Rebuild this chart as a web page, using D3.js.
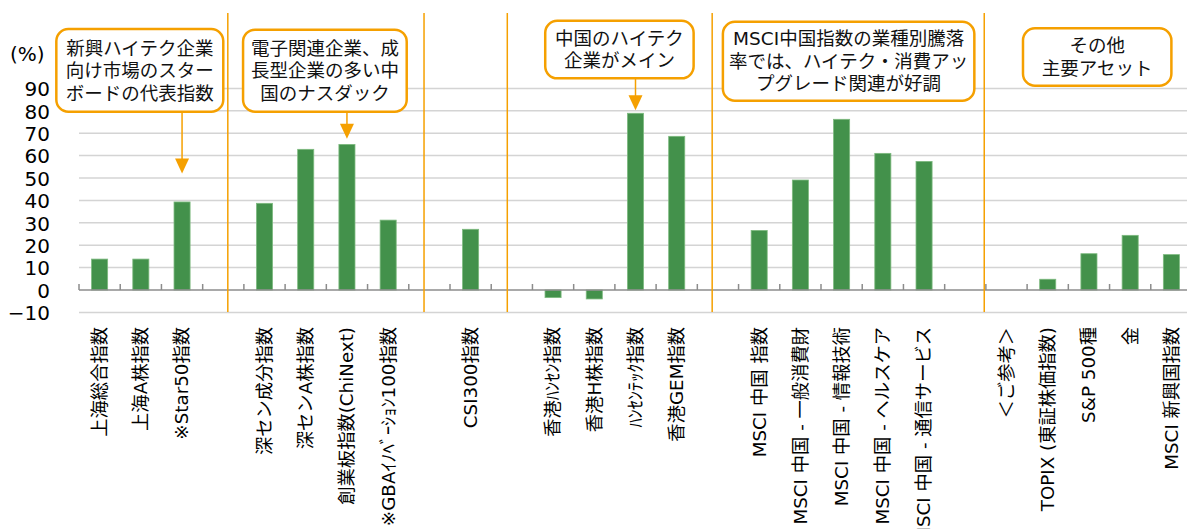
<!DOCTYPE html>
<html><head><meta charset="utf-8">
<script src="https://cdn.jsdelivr.net/npm/d3@7"></script>
<style>
html,body{margin:0;padding:0;background:#fff;}
svg{display:block;}
</style></head>
<body>
<svg id="c" width="1187" height="529"></svg>
<script>
const categories = ["上海総合指数","上海A株指数","※Star50指数","",
  "深セン成分指数","深センA株指数","創業板指数(ChiNext)","※GBAｲﾉﾍﾞｰｼｮﾝ100指数","",
  "CSI300指数","",
  "香港ﾊﾝｾﾝ指数","香港H株指数","ﾊﾝｾﾝﾃｯｸ指数","香港GEM指数","",
  "MSCI 中国 指数","MSCI 中国 - 一般消費財","MSCI 中国 - 情報技術","MSCI 中国 - ヘルスケア","MSCI 中国 - 通信サービス","",
  "＜ご参考＞","TOPIX (東証株価指数)","S&P 500種","金","MSCI 新興国指数"];
const values = [13.8,13.8,39.3,null,
  38.7,62.8,65.0,31.2,null,
  27.1,null,
  -3.4,-4.0,78.9,68.6,null,
  26.6,49.1,76.2,61.0,57.4,null,
  null,4.8,16.2,24.4,15.8];
const yTicks = [-10,0,10,20,30,40,50,60,70,80,90];
// separator positions (in category units from the left edge)
const separators = [3.61, 8.37, 10.39, 15.36, 21.96];
// callouts: text lines, box [x0,x1] in category units, box top/bottom in value units, arrow target
const callouts = [
  {lines:["新興ハイテク企業","向け市場のスター","ボードの代表指数"], box:[-0.55,3.5], top:[116.5,79.6], arrow:{cat:2, to:52}},
  {lines:["電子関連企業、成","長型企業の多い中","国のナスダック"], box:[3.98,7.95], top:[116.2,79.6], arrow:{cat:6, to:67.5}},
  {lines:["中国のハイテク","企業がメイン"], box:[11.31,14.91], top:[120.2,94.5], arrow:{cat:13, to:80.2}},
  {lines:["MSCI中国指数の業種別騰落","率では、ハイテク・消費アッ","プグレード関連が好調"], box:[15.62,21.72], top:[119.7,84.5], arrow:null},
  {lines:["その他","主要アセット"], box:[22.9,26.5], top:[116.8,91.2], arrow:null}
];

const svg = d3.select("#c");
const left = 79, right = 1192, y0px = 290, pxPer10 = 22.4;
const x = d3.scaleBand().domain(d3.range(categories.length)).range([left, right]).paddingInner(0).paddingOuter(0);
const xc = d3.scaleLinear().domain([0, categories.length]).range([left, right]);
const y = d3.scaleLinear().domain([0, 90]).range([y0px, y0px - 9*pxPer10]);
const font = "'DejaVu Sans','Noto Sans CJK JP',sans-serif";
const orange = "#F5A000";

// gridlines
svg.append("g").selectAll("line").data(yTicks.filter(d=>d!==0)).join("line")
  .attr("x1", left).attr("x2", 1187).attr("y1", d=>y(d)).attr("y2", d=>y(d))
  .attr("stroke", "#d4d4d4").attr("stroke-width", 1.5);

// y axis labels
const yAxis = d3.axisLeft(y).tickValues(yTicks).tickSize(0).tickPadding(0);
const ga = svg.append("g").attr("transform", `translate(50,0)`).call(yAxis);
ga.select(".domain").remove();
ga.selectAll("text").attr("font-family", font).attr("font-size", 20).attr("fill", "#000").attr("dy", "0.36em");
svg.append("text").attr("x", 10).attr("y", 61).attr("font-family", font).attr("font-size", 20).text("(%)");

// bars
svg.append("g").selectAll("rect").data(values.map((v,i)=>({v,i})).filter(d=>d.v!==null)).join("rect")
  .attr("x", d=>x(d.i) + x.bandwidth()*0.305)
  .attr("width", x.bandwidth()*0.39)
  .attr("y", d=>y(Math.max(0,d.v)))
  .attr("height", d=>Math.abs(y(d.v)-y(0)))
  .attr("fill", "#43914B").attr("stroke", "#7DBA7F").attr("stroke-width", 0.8);

// zero axis with ticks
svg.append("line").attr("x1", left).attr("x2", 1187).attr("y1", y(0)).attr("y2", y(0)).attr("stroke", "#8c8c8c").attr("stroke-width", 1.5);
svg.append("g").selectAll("line").data(d3.range(categories.length+1)).join("line")
  .attr("x1", d=>xc(d)).attr("x2", d=>xc(d)).attr("y1", y(0)).attr("y2", y(0)-6)
  .attr("stroke", "#8c8c8c").attr("stroke-width", 1.5);

// category labels
svg.append("g").selectAll("text").data(categories.map((c,i)=>({c,i}))).join("text")
  .attr("transform", d=>`translate(${x(d.i)+x.bandwidth()/2},327) rotate(-90)`)
  .attr("text-anchor", "end").attr("dy", "0.35em")
  .attr("font-family", font).attr("font-size", 18.3).attr("fill", "#000")
  .text(d=>d.c);

// separators
svg.append("g").selectAll("line").data(separators).join("line")
  .attr("x1", d=>xc(d)).attr("x2", d=>xc(d)).attr("y1", 13).attr("y2", 312)
  .attr("stroke", orange).attr("stroke-width", 1.5);

// callouts
callouts.forEach(c => {
  const g = svg.append("g");
  const x0 = xc(c.box[0]), x1 = xc(c.box[1]);
  const yt = y(c.top[0]), yb = y(c.top[1]);
  if (c.arrow) {
    const ax = x(c.arrow.cat) + x.bandwidth()/2;
    const tip = y(c.arrow.to);
    g.append("line").attr("x1", ax).attr("x2", ax).attr("y1", yb).attr("y2", tip-14).attr("stroke", orange).attr("stroke-width", 1.5);
    g.append("path").attr("d", `M${ax-7},${tip-15}L${ax+7},${tip-15}L${ax},${tip}Z`).attr("fill", orange);
  }
  g.append("rect").attr("x", x0).attr("y", yt).attr("width", x1-x0).attr("height", yb-yt)
    .attr("rx", 12).attr("ry", 12).attr("fill", "#fff").attr("stroke", orange).attr("stroke-width", 2.5);
  const n = c.lines.length, lh = 22.5;
  const cy = (yt+yb)/2;
  c.lines.forEach((t,k) => {
    g.append("text").attr("x", (x0+x1)/2).attr("y", cy + (k-(n-1)/2)*lh).attr("dy","0.36em")
      .attr("text-anchor","middle").attr("font-family", font).attr("font-size", 18.5).attr("fill","#111").text(t);
  });
});
</script>
</body></html>
